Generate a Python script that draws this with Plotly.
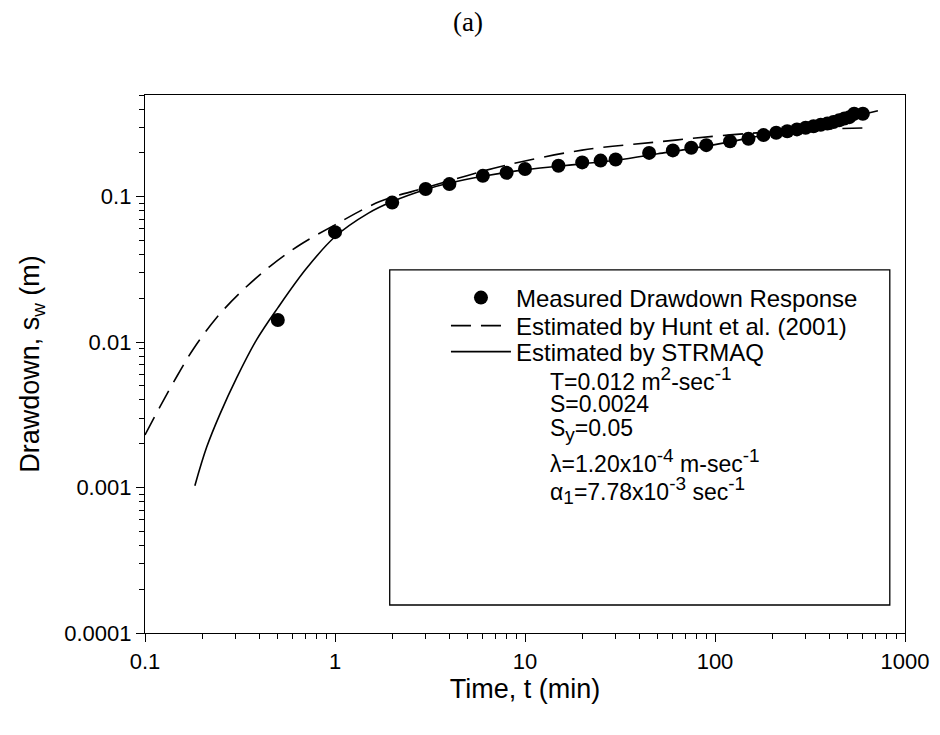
import plotly.graph_objects as go

# ---- data ----
meas_t = [0.5, 1, 2, 3, 4, 6, 8, 10, 15, 20, 25, 30, 45, 60, 75, 90, 120, 150,
          180, 210, 240, 270, 300, 330, 360, 390, 420, 450, 480, 510, 540, 600]
meas_s = [0.0142, 0.057, 0.091, 0.113, 0.122, 0.139, 0.146, 0.155, 0.163, 0.172,
          0.177, 0.180, 0.200, 0.208, 0.217, 0.226, 0.240, 0.250, 0.265, 0.275,
          0.282, 0.290, 0.298, 0.305, 0.312, 0.318, 0.326, 0.335, 0.345, 0.352,
          0.372, 0.372]

hunt_t = [0.1, 0.12, 0.147, 0.179, 0.238, 0.316, 0.455, 0.655, 1.0, 1.72, 3, 5, 8,
          20, 50, 120, 230, 400, 640]
hunt_s = [0.0023, 0.0036, 0.0058, 0.0089, 0.0147, 0.0218, 0.0332, 0.0467, 0.064,
          0.0925, 0.115, 0.140, 0.165, 0.209, 0.238, 0.266, 0.282, 0.292, 0.297]

strm_t = [0.183, 0.211, 0.248, 0.304, 0.387, 0.5, 0.71, 1.0, 1.5, 2, 3, 4, 6, 10,
          20, 30, 50, 100, 200, 300, 500, 720]
strm_s = [0.00103, 0.00189, 0.0032, 0.0057, 0.0104, 0.0172, 0.0323, 0.053, 0.077,
          0.0925, 0.112, 0.124, 0.138, 0.153, 0.168, 0.178, 0.197, 0.228, 0.272,
          0.300, 0.348, 0.39]

x_ticks = [0.1, 1, 10, 100, 1000]
x_ticklabels = ["0.1", "1", "10", "100", "1000"]
y_ticks = [0.0001, 0.001, 0.01, 0.1]
y_ticklabels = ["0.0001", "0.001", "0.01", "0.1"]

SUP = '<sup><span style="font-size:19px">{}</span></sup>'
SUB = '<sub><span style="font-size:19px">{}</span></sub>'
param_lines = [
    "T=0.012 m" + SUP.format("2") + "-sec" + SUP.format("-1"),
    "S=0.0024",
    "S" + SUB.format("y") + "=0.05",
    "λ=1.20x10" + SUP.format("-4") + " m-sec" + SUP.format("-1"),
    "α" + SUB.format("1") + "=7.78x10" + SUP.format("-3") + " sec" + SUP.format("-1"),
]

FONT = "Liberation Sans, Arial, sans-serif"

fig = go.Figure()
fig.add_trace(go.Scatter(x=meas_t, y=meas_s, mode="markers",
                         name="Measured Drawdown Response", legend="legend",
                         marker=dict(color="black", size=14, symbol="circle")))
fig.add_trace(go.Scatter(x=hunt_t, y=hunt_s, mode="lines",
                         name="Estimated by Hunt et al. (2001)", legend="legend2",
                         line=dict(color="black", width=1.6, dash="20px,10px",
                                   shape="spline", smoothing=1.0)))
fig.add_trace(go.Scatter(x=strm_t, y=strm_s, mode="lines",
                         name="Estimated by STRMAQ", legend="legend3",
                         line=dict(color="black", width=1.6,
                                   shape="spline", smoothing=1.0)))

minor_x = [m * 10 ** e for e in range(-1, 3) for m in range(2, 10)]
minor_y = [m * 10 ** e for e in range(-4, 0) for m in range(2, 10) if m * 10 ** e <= 0.5]

axis_common = dict(showline=True, linecolor="black", linewidth=1.3, mirror=True,
                   ticks="outside", ticklen=8, tickcolor="black", tickwidth=1.2,
                   showgrid=False, zeroline=False,
                   tickfont=dict(family=FONT, size=22, color="black"))

fig.update_xaxes(type="log", range=[-1, 3], tickvals=x_ticks, ticktext=x_ticklabels,
                 minor=dict(tickvals=minor_x, ticks="outside", ticklen=5,
                            tickcolor="black", tickwidth=1),
                 title=dict(text="Time, t (min)", font=dict(family=FONT, size=27, color="black"),
                            standoff=6),
                 **axis_common)
fig.update_yaxes(type="log", range=[-4, -0.30103], tickvals=y_ticks, ticktext=y_ticklabels,
                 minor=dict(tickvals=minor_y, ticks="outside", ticklen=5,
                            tickcolor="black", tickwidth=1),
                 title=dict(text="Drawdown, s<sub>w</sub> (m)",
                            font=dict(family=FONT, size=27, color="black"), standoff=16),
                 **axis_common)

# legend box frame
fig.add_shape(type="rect", xref="paper", yref="paper", x0=0.322, x1=0.980,
              y0=0.052, y1=0.675, line=dict(color="black", width=1.3),
              fillcolor="rgba(0,0,0,0)")

ys = [0.4717, 0.426, 0.3773, 0.3194, 0.2644]
for txt, yy in zip(param_lines, ys):
    fig.add_annotation(text=txt, xref="paper", yref="paper", x=0.530, y=yy,
                       xanchor="left", yanchor="middle", showarrow=False,
                       font=dict(family=FONT, size=23, color="black"))

leg_common = dict(xanchor="left", yanchor="middle", bgcolor="rgba(0,0,0,0)",
                  borderwidth=0, itemwidth=60,
                  font=dict(family=FONT, size=24, color="black"))

fig.update_layout(
    width=940, height=735,
    margin=dict(l=137, r=43, t=87, b=110),
    paper_bgcolor="white", plot_bgcolor="white",
    title=dict(text="(a)", x=460 / 940, xanchor="center", y=1 - 14 / 735, yanchor="middle",
               font=dict(family="Liberation Serif, Times New Roman, serif", size=27, color="black")),
    showlegend=True,
    legend=dict(x=0.396, y=0.6227, **leg_common),
    legend2=dict(x=0.396, y=0.5706, **leg_common),
    legend3=dict(x=0.396, y=0.5223, **leg_common),
)

fig.write_html("out.html")
